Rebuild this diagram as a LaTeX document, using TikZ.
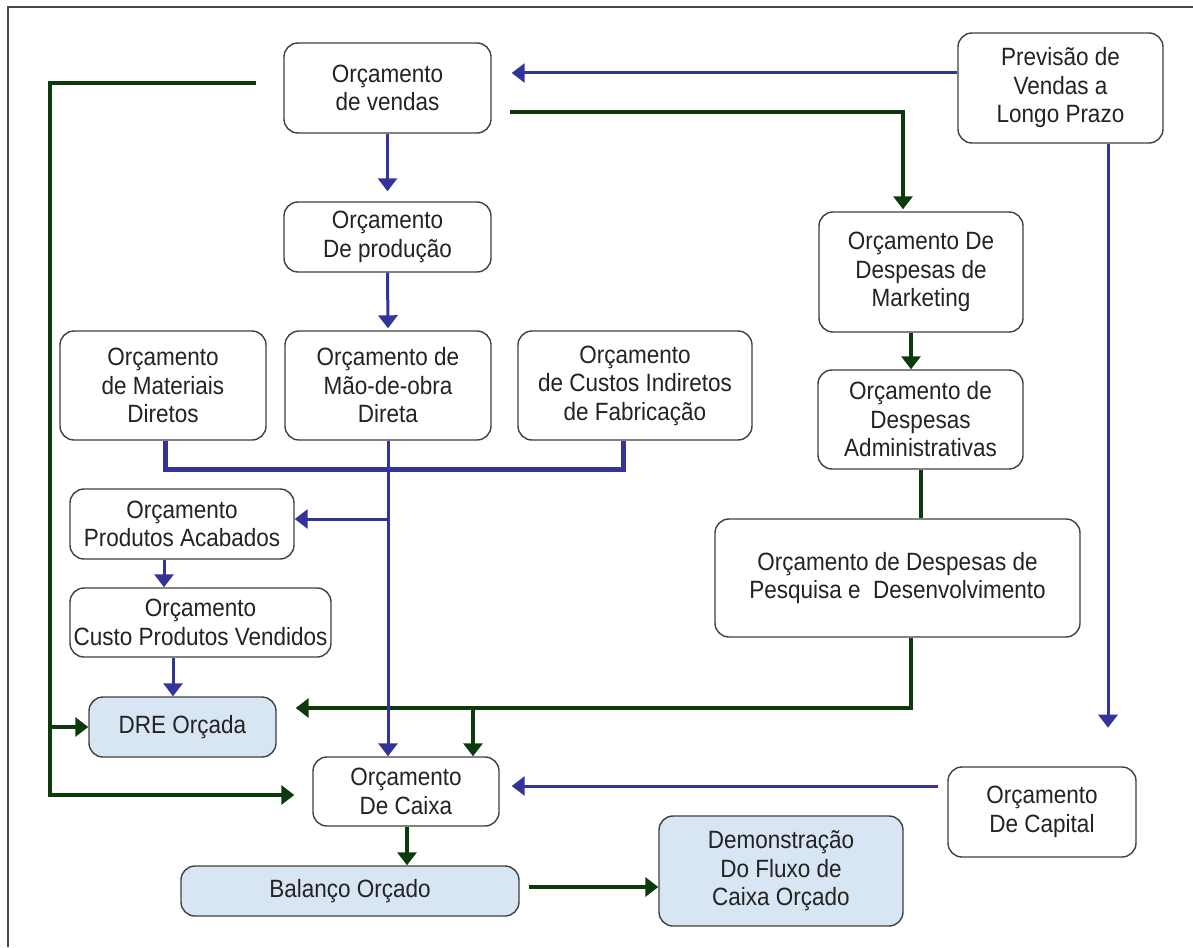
\documentclass[tikz,border=0pt]{standalone}
\usepackage{fontspec}
\setmainfont{Liberation Sans}[FakeStretch=0.9]
\usetikzlibrary{arrows.meta,calc}
\definecolor{flowblue}{RGB}{51,51,153}
\definecolor{flowgreen}{RGB}{12,58,12}
\definecolor{boxline}{RGB}{64,64,64}
\definecolor{resfill}{RGB}{216,229,242}
\definecolor{txt}{RGB}{35,35,35}
\definecolor{framecol}{RGB}{70,70,70}
\begin{document}
\begin{tikzpicture}[x=1pt,y=-1pt,
  box/.style={draw=boxline, line width=1.4pt, rounded corners=14pt, fill=white,
    align=center, inner sep=0pt, text=txt, font=\fontsize{25}{28.5}\selectfont},
  result/.style={box, fill=resfill},
  bl/.style={draw=flowblue, line width=3pt},
  gr/.style={draw=flowgreen, line width=4pt},
  tip/.style={-{Triangle[length=13pt,width=19pt]}},
]
\useasboundingbox (0,0) rectangle (1193,947);
\draw[framecol, line width=2pt] (8,947) -- (8,7) -- (1193,7);

% budget boxes
\node[box, minimum width=207pt, minimum height=90pt]  (vendas)   at (387.5,88)  {Orçamento\\de vendas};
\node[box, minimum width=207pt, minimum height=70pt]  (producao) at (387.5,237) {Orçamento\\De produção};
\node[box, minimum width=205pt, minimum height=110pt] (previsao) at (1060.5,88) {Previsão de\\Vendas a\\Longo Prazo};
\node[box, minimum width=204pt, minimum height=120pt] (mkt)      at (921,272)   {Orçamento De\\Despesas de\\Marketing};
\node[box, minimum width=205pt, minimum height=99pt]  (adm)      at (920.5,419.5) {Orçamento de\\Despesas\\Administrativas};
\node[box, minimum width=365pt, minimum height=118pt] (pesq)     at (897.5,578) {Orçamento de Despesas de\\Pesquisa e \ Desenvolvimento};
\node[box, minimum width=206pt, minimum height=109pt] (mat)      at (163,385.5) {Orçamento\\de Materiais\\Diretos};
\node[box, minimum width=206pt, minimum height=109pt] (mao)      at (388,385.5) {Orçamento de\\Mão-de-obra\\Direta};
\node[box, minimum width=234pt, minimum height=109pt] (cif)      at (635,385.5) {Orçamento\\de Custos Indiretos\\de Fabricação};
\node[box, minimum width=224pt, minimum height=70pt]  (acab)     at (182,524)   {Orçamento\\Produtos Acabados};
\node[box, minimum width=261pt, minimum height=69pt]  (cpv)      at (200.5,622.5) {Orçamento\\Custo Produtos Vendidos};
\node[result, minimum width=187pt, minimum height=60pt] (dre)    at (182.5,727) {DRE Orçada};
\node[box, minimum width=186pt, minimum height=69pt]  (caixa)    at (406,791.5) {Orçamento\\De Caixa};
\node[result, minimum width=338pt, minimum height=50pt] (balanco) at (350,891)  {Balanço Orçado};
\node[result, minimum width=244pt, minimum height=110pt] (demo)  at (781,871)   {Demonstração\\Do Fluxo de\\Caixa Orçado};
\node[box, minimum width=188pt, minimum height=90pt]  (capital)  at (1042,812)  {Orçamento\\De Capital};

% free ends and bends
\coordinate (gTop)    at ($(vendas.west)+(-27,-5)$);
\coordinate (rail)    at (50,0);
\coordinate (gBot)    at ($(caixa.west)+(-18,3.5)$);
\coordinate (mktIn)   at ($(vendas.east)+(18,24)$);
\coordinate (capTop)  at ($(previsao.south)+(47.5,584)$);
\coordinate (acabIn)  at ($(acab.east)+(0,-5)$);
\coordinate (pOut)    at ($(pesq.south)+(13.5,0)$);
\coordinate (dreIn)   at ($(dre.east)+(19,-19)$);
\coordinate (cxBr)    at ($(caixa.north)+(67,-49)$);
\coordinate (capOut)  at ($(capital.west)+(-9,-26)$);
\coordinate (cxIn)    at ($(caixa.east)+(12,-5.5)$);
\coordinate (balOut)  at ($(balanco.east)+(9,-4)$);

% green flows
\draw[gr,tip] (gTop) -| (rail |- gBot) -- (gBot);
\draw[gr,tip] (rail |- dre.west) -- (dre.west);
\draw[gr,tip] (mktIn) -| ([xshift=-18pt,yshift=2pt]mkt.north);
\draw[gr,tip] ([xshift=-10pt]mkt.south) -- ([xshift=-10pt]mkt.south |- adm.north);
\draw[gr] (adm.south) -- (adm.south |- pesq.north);
\draw[gr,tip] (pOut) |- (dreIn);
\draw[gr,tip] (cxBr) -- (cxBr |- caixa.north);
\draw[gr,tip] ([xshift=1pt]caixa.south) -- ([xshift=1pt]caixa.south |- balanco.north);
\draw[gr,tip] (balOut) -- (balOut -| demo.west);

% blue flows
\draw[bl,tip] ($(previsao.west)+(0,-15)$) -- ($(vendas.east)+(20,-15)$);
\draw[bl,tip] ($(previsao.south)+(47.5,0)$) -- (capTop);
\draw[bl,tip] (vendas.south) -- ($(producao.north)+(0,-10)$);
\draw[bl,tip] (producao.south) -- ($(mao.north)+(0,-2)$);
\draw[bl, line width=5pt] ($(mat.south)+(2,0)$) -- ($(mat.south)+(2,29)$) -| ($(cif.south)+(-12,0)$);
\draw[bl,tip] (mao.south) -- (mao.south |- caixa.north);
\draw[bl,tip] (mao.south |- acabIn) -- (acabIn);
\draw[bl,tip] ([xshift=-18pt]acab.south) -- ([xshift=-18pt]acab.south |- cpv.north);
\draw[bl,tip] ([xshift=-27.5pt]cpv.south) -- ([xshift=-27.5pt]cpv.south |- dre.north);
\draw[bl,tip] (capOut) -- (cxIn);
\end{tikzpicture}
\end{document}
